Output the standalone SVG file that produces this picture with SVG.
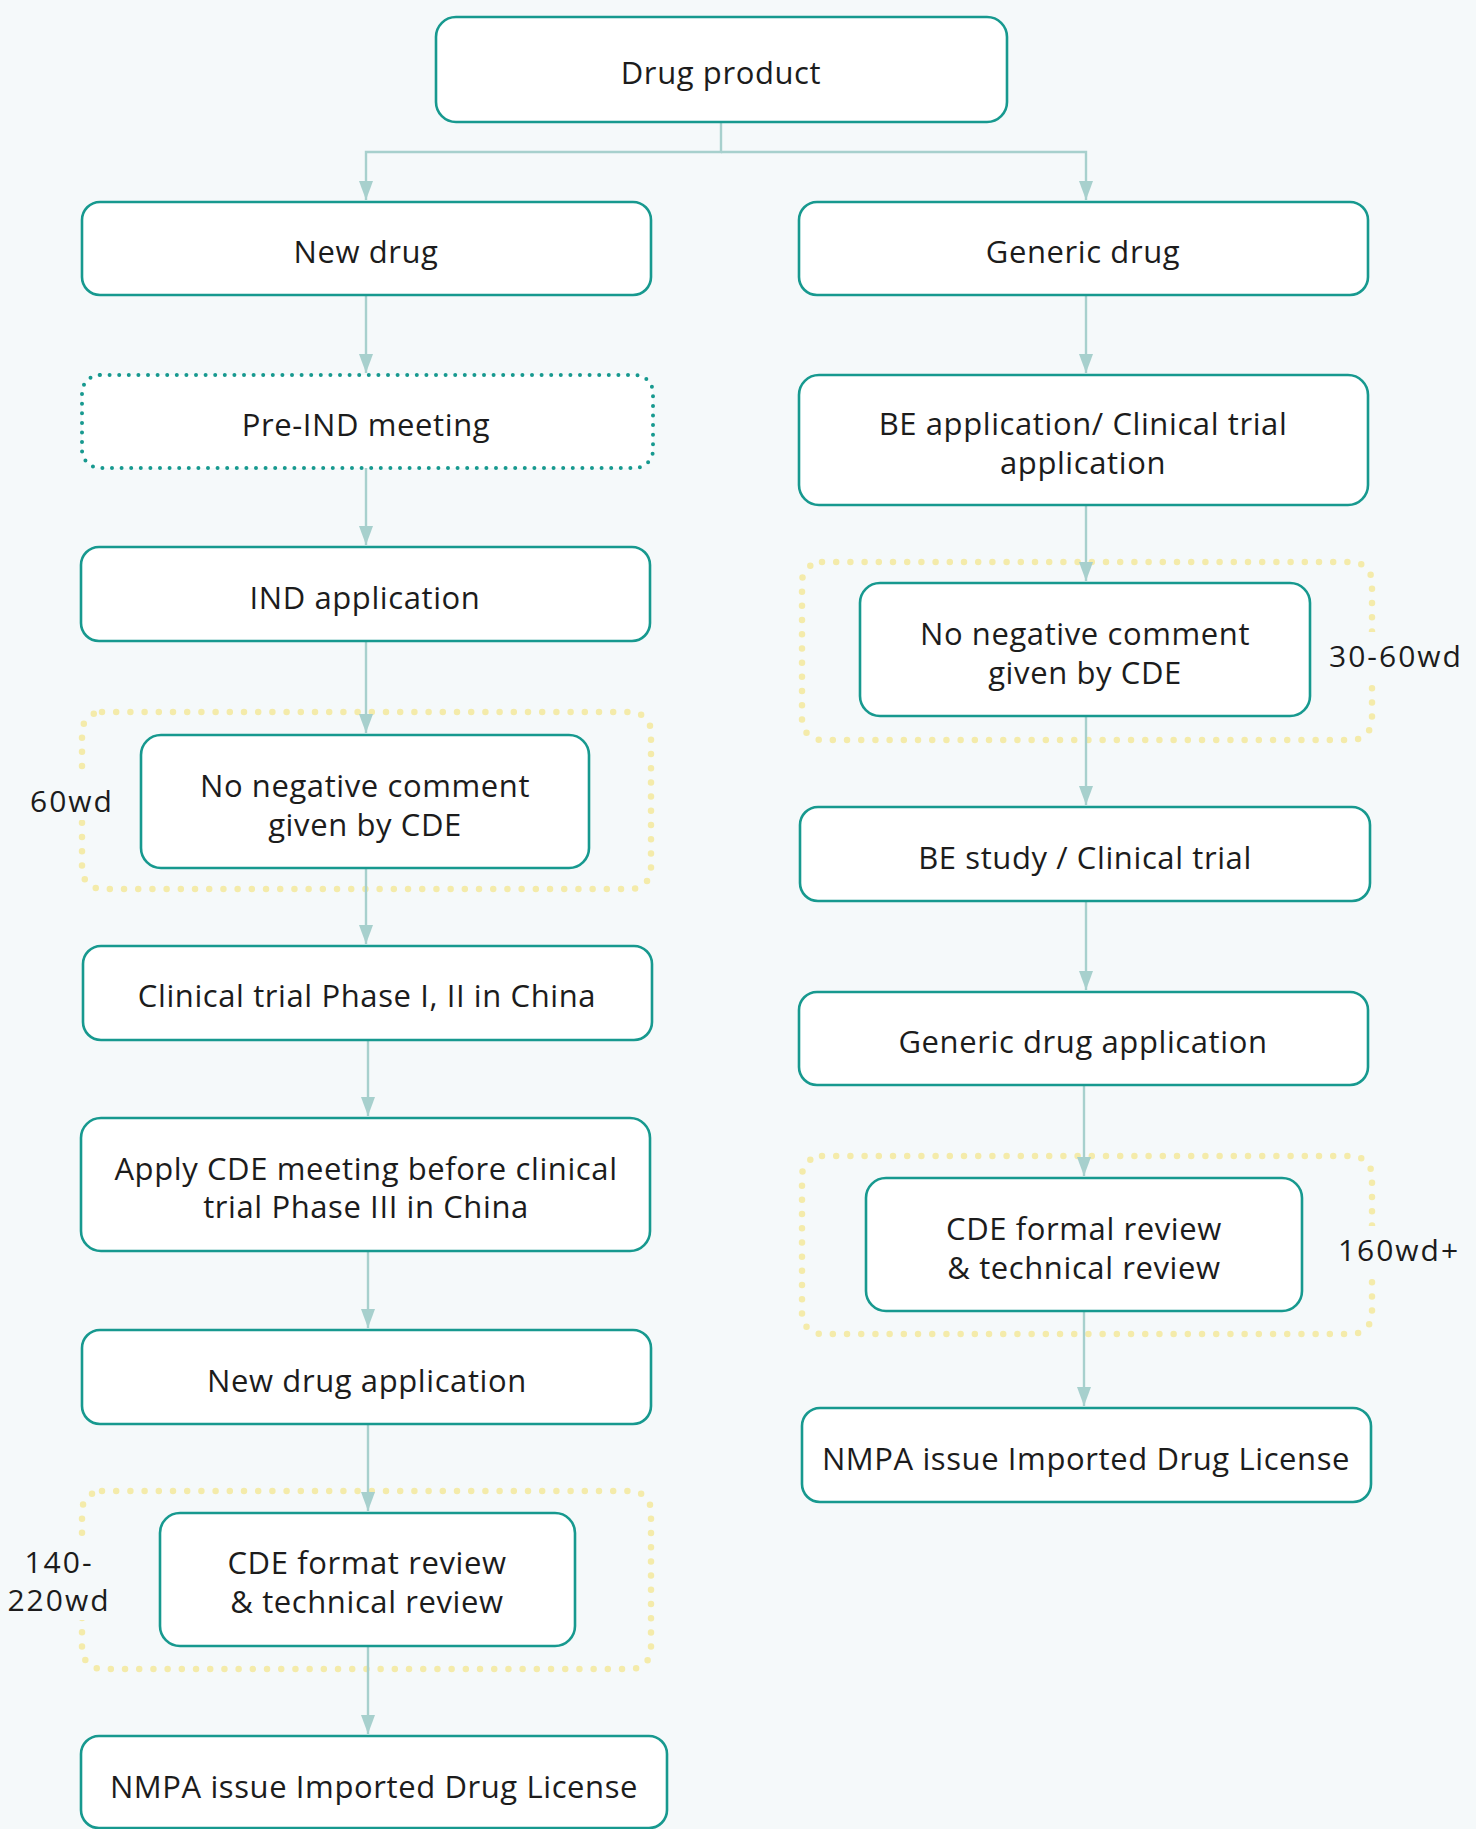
<svg xmlns="http://www.w3.org/2000/svg" width="1476" height="1829" viewBox="0 0 1476 1829">
<defs>
<style>
.bg{fill:#f5f9fa}
.box{fill:#ffffff;stroke:#17998f;stroke-width:2.6}
.dotbox{fill:#ffffff;stroke:#17998f;stroke-width:4;stroke-dasharray:0 9.6;stroke-linecap:round}
.grp{fill:none;stroke:#f4ebaa;stroke-width:6.5;stroke-dasharray:0 14.2;stroke-linecap:round}
.t{font-family:"Open Sans","Liberation Sans",sans-serif;font-size:31px;letter-spacing:0.6px;fill:#1c1c1c;text-anchor:middle}
.lbl{font-family:"Open Sans","Liberation Sans",sans-serif;font-size:30px;letter-spacing:2px;fill:#1c1c1c;text-anchor:middle}
.c{fill:none;stroke:#a7d0cd;stroke-width:2.4}
.gap{fill:#f5f9fa}
</style>
<marker id="ad" markerUnits="userSpaceOnUse" markerWidth="20" markerHeight="16" viewBox="0 0 20 16" refX="19" refY="8" orient="auto">
<path d="M0,1 L19,8 L0,15 Z" fill="#a7d0cd"/>
</marker>
</defs>
<rect class="bg" x="0" y="0" width="1476" height="1829"/>

<g id="groups">
<rect class="grp" x="82" y="712" width="569" height="177" rx="20"/>
<rect class="grp" x="82" y="1491" width="569" height="178" rx="20"/>
<rect class="grp" x="802" y="562" width="570" height="178" rx="20"/>
<rect class="grp" x="802" y="1156" width="570" height="178" rx="20"/>
</g>

<g id="connectors">
<path class="c" d="M721,122 V152 H366 V200" marker-end="url(#ad)"/>
<path class="c" d="M721,152 H1086 V200" marker-end="url(#ad)"/>
<path class="c" d="M366,295 V373" marker-end="url(#ad)"/>
<path class="c" d="M366,468 V545" marker-end="url(#ad)"/>
<path class="c" d="M366,641 V733" marker-end="url(#ad)"/>
<path class="c" d="M366,868 V944" marker-end="url(#ad)"/>
<path class="c" d="M368,1040 V1116" marker-end="url(#ad)"/>
<path class="c" d="M368,1251 V1328" marker-end="url(#ad)"/>
<path class="c" d="M368,1424 V1511" marker-end="url(#ad)"/>
<path class="c" d="M368,1646 V1734" marker-end="url(#ad)"/>
<path class="c" d="M1086,295 V373" marker-end="url(#ad)"/>
<path class="c" d="M1086,505 V581" marker-end="url(#ad)"/>
<path class="c" d="M1086,716 V805" marker-end="url(#ad)"/>
<path class="c" d="M1086,901 V990" marker-end="url(#ad)"/>
<path class="c" d="M1084,1085 V1176" marker-end="url(#ad)"/>
<path class="c" d="M1084,1311 V1406" marker-end="url(#ad)"/>
</g>

<g id="drug-product"><rect class="box" x="436" y="17" width="571" height="105" rx="20"/><text class="t" x="721" y="84">Drug product</text></g>
<g id="new-drug"><rect class="box" x="82" y="202" width="569" height="93" rx="18"/><text class="t" x="366" y="263">New drug</text></g>
<g id="generic-drug"><rect class="box" x="799" y="202" width="569" height="93" rx="18"/><text class="t" x="1083" y="263">Generic drug</text></g>
<g id="pre-ind"><rect class="dotbox" x="82" y="375" width="571" height="93" rx="18"/><text class="t" x="366" y="436">Pre-IND meeting</text></g>
<g id="ind-application"><rect class="box" x="81" y="547" width="569" height="94" rx="18"/><text class="t" x="365" y="609">IND application</text></g>
<g id="no-negative-left"><rect class="box" x="141" y="735" width="448" height="133" rx="20"/><text class="t" x="365" y="797">No negative comment</text><text class="t" x="365" y="836">given by CDE</text></g>
<g id="clinical-trial"><rect class="box" x="83" y="946" width="569" height="94" rx="18"/><text class="t" x="367" y="1007">Clinical trial Phase I, II in China</text></g>
<g id="apply-cde"><rect class="box" x="81" y="1118" width="569" height="133" rx="20"/><text class="t" x="366" y="1180">Apply CDE meeting before clinical</text><text class="t" x="366" y="1218">trial Phase III in China</text></g>
<g id="new-drug-application"><rect class="box" x="82" y="1330" width="569" height="94" rx="18"/><text class="t" x="367" y="1392">New drug application</text></g>
<g id="cde-format-review"><rect class="box" x="160" y="1513" width="415" height="133" rx="20"/><text class="t" x="367" y="1574">CDE format review</text><text class="t" x="367" y="1613">&amp; technical review</text></g>
<g id="nmpa-left"><rect class="box" x="81" y="1736" width="586" height="92" rx="18"/><text class="t" x="374" y="1798">NMPA issue Imported Drug License</text></g>

<g id="be-application"><rect class="box" x="799" y="375" width="569" height="130" rx="20"/><text class="t" x="1083" y="435">BE application/ Clinical trial</text><text class="t" x="1083" y="474">application</text></g>
<g id="no-negative-right"><rect class="box" x="860" y="583" width="450" height="133" rx="20"/><text class="t" x="1085" y="645">No negative comment</text><text class="t" x="1085" y="684">given by CDE</text></g>
<g id="be-study"><rect class="box" x="800" y="807" width="570" height="94" rx="18"/><text class="t" x="1085" y="869">BE study / Clinical trial</text></g>
<g id="generic-application"><rect class="box" x="799" y="992" width="569" height="93" rx="18"/><text class="t" x="1083" y="1053">Generic drug application</text></g>
<g id="cde-formal-review"><rect class="box" x="866" y="1178" width="436" height="133" rx="20"/><text class="t" x="1084" y="1240">CDE formal review</text><text class="t" x="1084" y="1279">&amp; technical review</text></g>
<g id="nmpa-right"><rect class="box" x="802" y="1408" width="569" height="94" rx="18"/><text class="t" x="1086" y="1470">NMPA issue Imported Drug License</text></g>

<g id="labels">
<rect class="gap" x="74" y="774" width="18" height="46"/>
<text class="lbl" x="72" y="812">60wd</text>
<rect class="gap" x="1362" y="632" width="20" height="46"/>
<text class="lbl" x="1396" y="667">30-60wd</text>
<rect class="gap" x="1362" y="1226" width="20" height="46"/>
<text class="lbl" x="1399" y="1261">160wd+</text>
<rect class="gap" x="74" y="1540" width="18" height="80"/>
<text class="lbl" x="59" y="1573">140-</text>
<text class="lbl" x="59" y="1611">220wd</text>
</g>
</svg>
